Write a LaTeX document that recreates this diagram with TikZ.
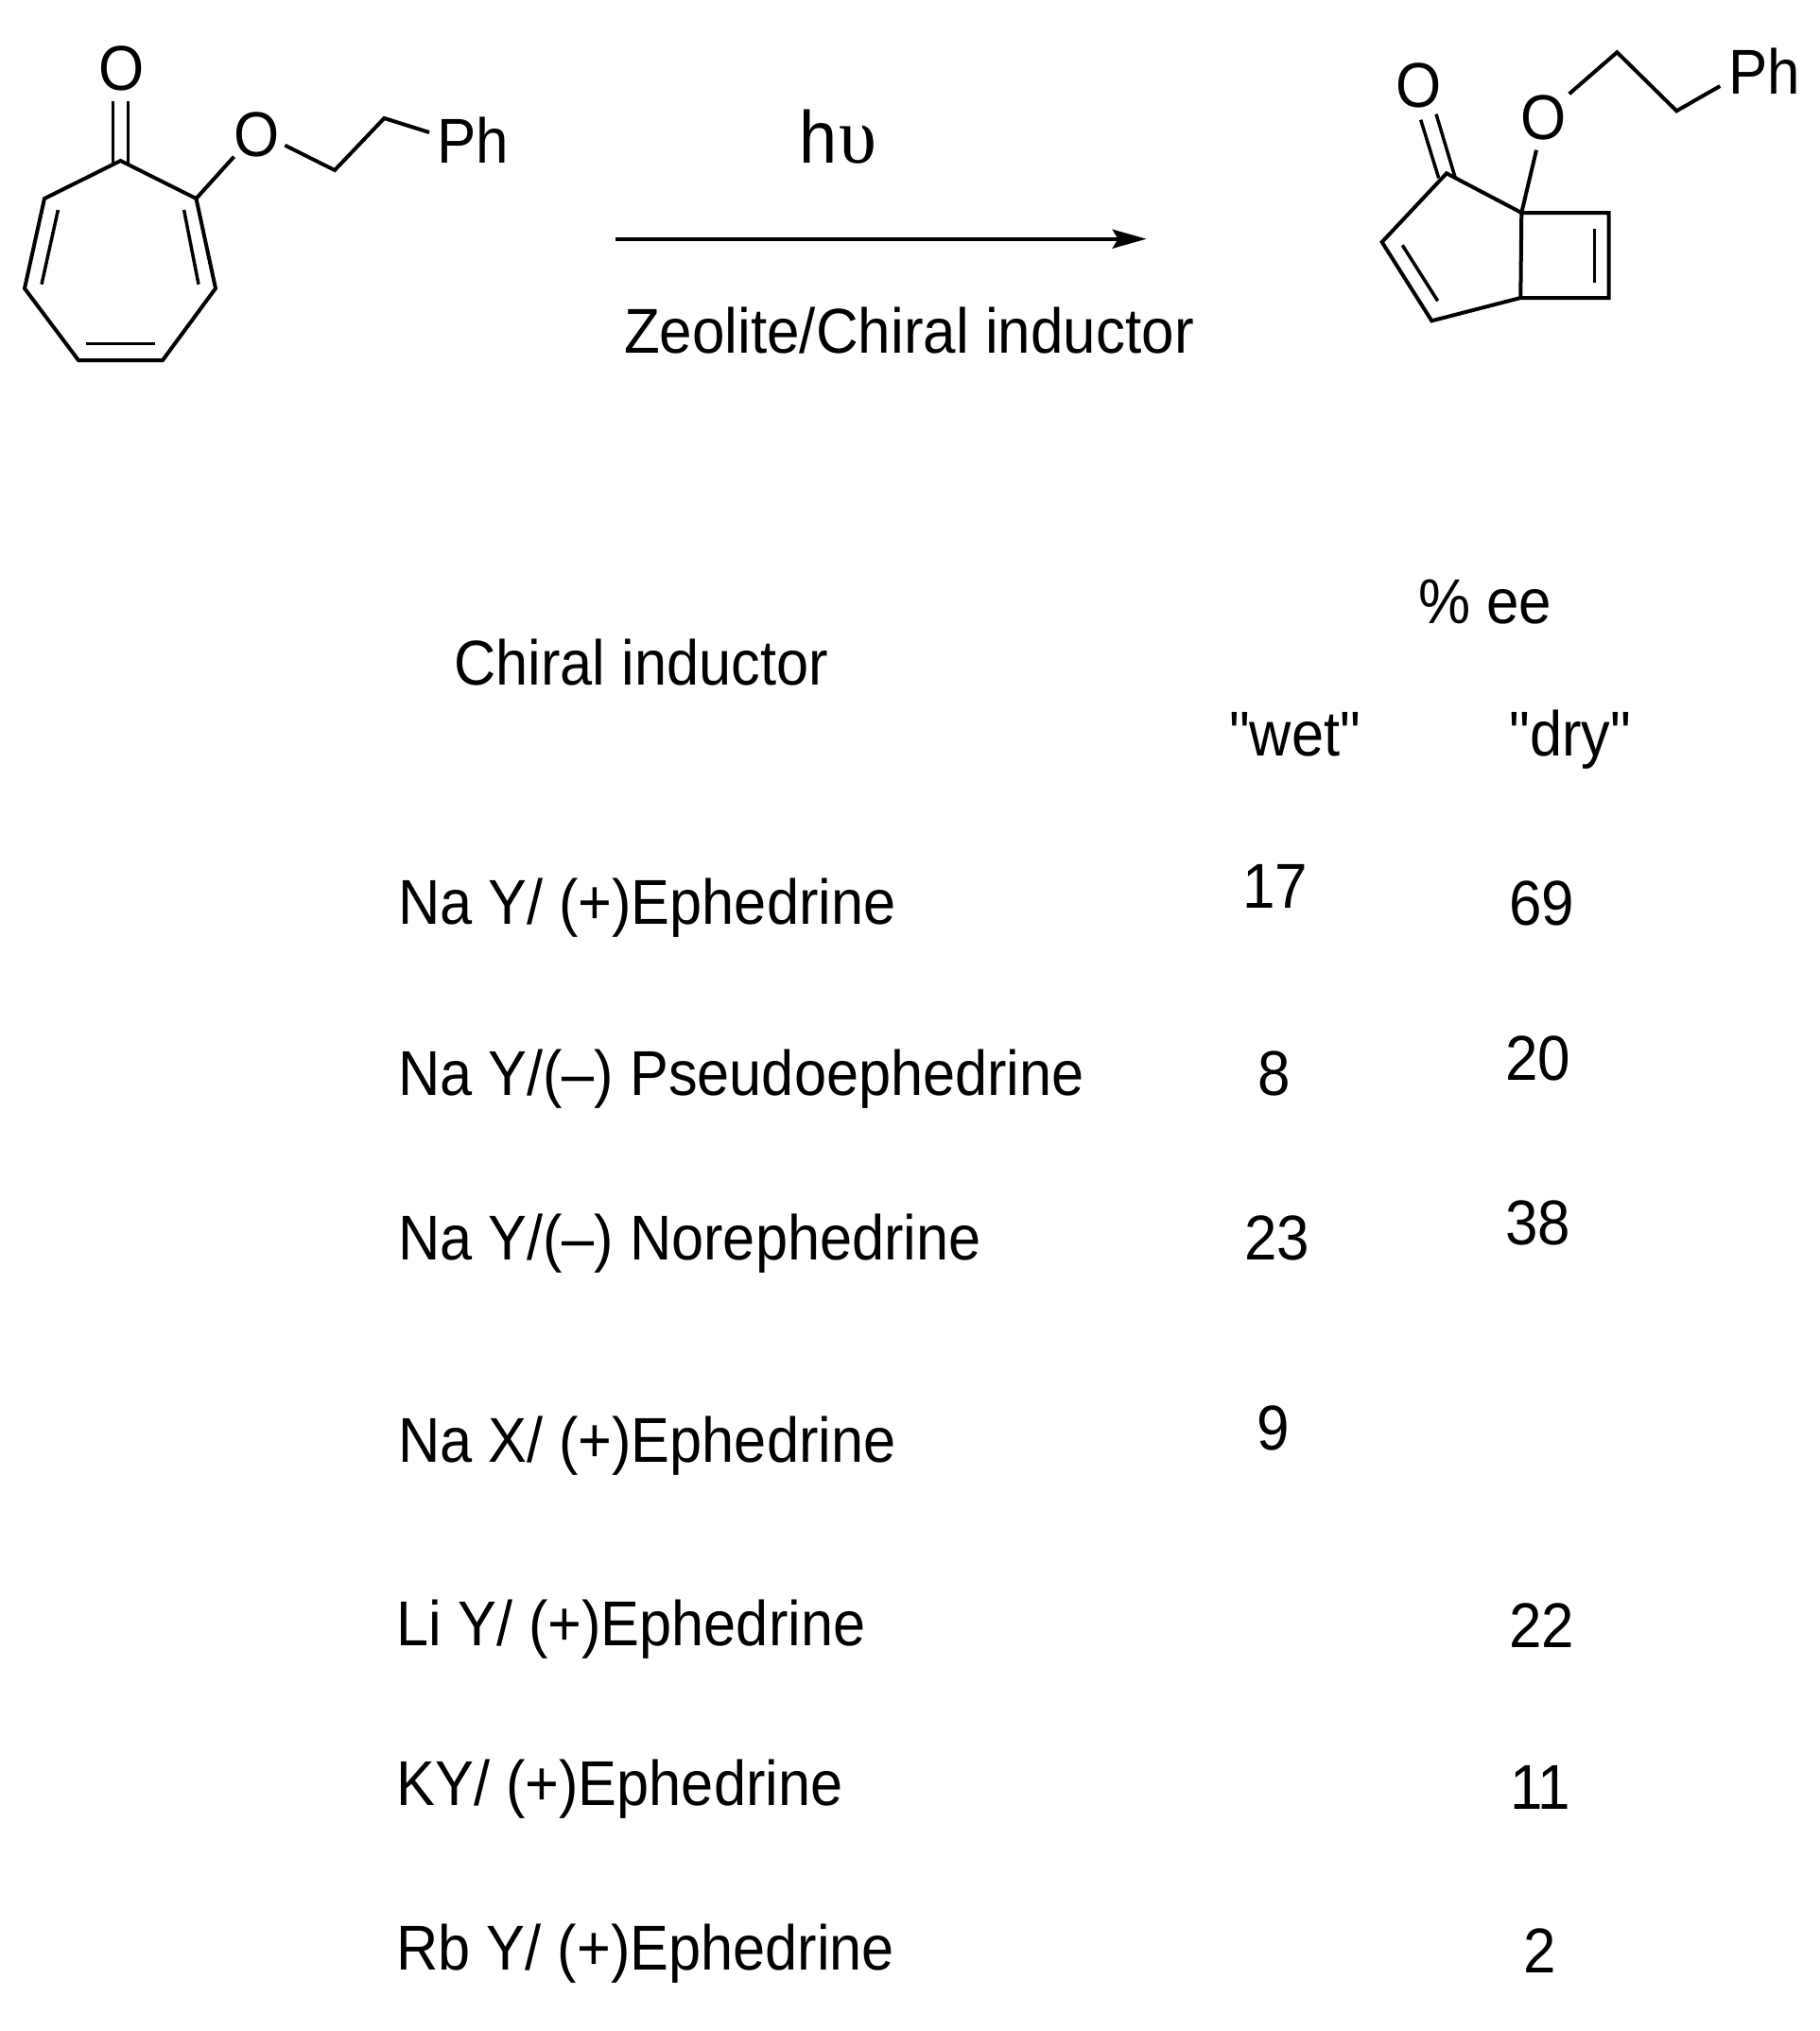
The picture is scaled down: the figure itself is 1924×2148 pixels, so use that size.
\documentclass[tikz,border=0pt]{standalone}
\usepackage{fontspec}
\setmainfont{Liberation Sans}
\newfontfamily\nf[FakeStretch=0.925]{Liberation Sans}
\newfontfamily\nfr[FakeStretch=0.915]{Liberation Sans}
\newfontfamily\sym[FakeStretch=0.96]{Liberation Serif}
\usetikzlibrary{arrows.meta}
\tikzset{
 x=0.5pt,y=-0.5pt,
 bond/.style={line width=2pt,line join=miter,line cap=butt},
 dbl/.style={line width=1.75pt,line cap=butt},
 txt/.style={inner sep=0pt,outer sep=0pt,anchor=base west,font=\nf\fontsize{33.5}{33.5}\selectfont},
 rowtxt/.style={inner sep=0pt,outer sep=0pt,anchor=base west,font=\nfr\fontsize{33.5}{33.5}\selectfont},
}
\begin{document}
\begin{tikzpicture}
\useasboundingbox[fill=white] (0,0) rectangle (1924,2148);
% left molecule
\coordinate (a1) at (127.5,170);\coordinate (a2) at (207.5,210);\coordinate (a3) at (228,305);
\coordinate (a4) at (172,381);\coordinate (a5) at (83,381);\coordinate (a6) at (26,305);\coordinate (a7) at (47,210);
\draw[bond] (a1)--(a2)--(a3)--(a4)--(a5)--(a6)--(a7)--cycle;
\coordinate (b1) at (119.6,107);\coordinate (b2) at (119.6,174);
\coordinate (b3) at (135.7,107);\coordinate (b4) at (135.7,174);
\draw[dbl] (b1)--(b2) (b3)--(b4);
\coordinate (c1) at (194.6,222);\coordinate (c2) at (210,300.7);\draw[dbl] (c1)--(c2);
\coordinate (c3) at (61.4,222);\coordinate (c4) at (44,300.7);\draw[dbl] (c3)--(c4);
\coordinate (c5) at (90.7,363.3);\coordinate (c6) at (164,363.3);\draw[dbl] (c5)--(c6);
\coordinate (d1) at (247.5,165.7);\draw[bond] (a2)--(d1);
\coordinate (e1) at (301.4,153.7);\coordinate (e2) at (354,180);\coordinate (e3) at (406.4,125);\coordinate (e4) at (454,140);
\draw[bond] (e1)--(e2)--(e3)--(e4);
\node[txt] (o1) at (104,95) {O};
\node[txt] (o2) at (247.5,165) {O};
\node[txt] (ph1) at (462,172.7) {Ph};
% right molecule
\coordinate (f1) at (1530,183.3);\coordinate (f2) at (1609.3,225);\coordinate (f3) at (1701.7,225);\coordinate (f4) at (1701.7,315);
\coordinate (f5) at (1608.3,315);\coordinate (f6) at (1514.3,339.3);\coordinate (f7) at (1461.7,256);
\draw[bond] (f1)--(f2)--(f3)--(f4)--(f5)--(f6)--(f7)--cycle (f2)--(f5);
\coordinate (g1) at (1521.7,188.3);\coordinate (g2) at (1502.7,126.7);\draw[dbl] (g1)--(g2);
\coordinate (g3) at (1539.3,188.3);\coordinate (g4) at (1519,120.7);\draw[dbl] (g3)--(g4);
\coordinate (g5) at (1483.3,259.3);\coordinate (g6) at (1520.7,318.3);\draw[dbl] (g5)--(g6);
\coordinate (g7) at (1686.3,242.3);\coordinate (g8) at (1686.3,298.7);\draw[dbl] (g7)--(g8);
\coordinate (h1) at (1625,158.7);\draw[bond] (f2)--(h1);
\coordinate (i1) at (1659.7,99.3);\coordinate (i2) at (1710.3,55.3);\coordinate (i3) at (1773.3,117.3);\coordinate (i4) at (1819.3,91);
\draw[bond] (i1)--(i2)--(i3)--(i4);
\node[txt] (o3) at (1476,113) {O};
\node[txt] (o4) at (1608.5,147) {O};
\node[txt] (ph2) at (1828.5,99) {Ph};
% arrow
\coordinate (s) at (651,252.7);\coordinate (t) at (1212.6,252.7);
\draw[line width=1.8pt,-{Stealth[length=18pt,width=10pt,inset=3pt]}] (s)--(t);
\node[inner sep=0pt,outer sep=0pt,anchor=base west,font=\nf\fontsize{39}{39}\selectfont] (hv) at (845.5,172.7) {h\hspace{1pt}{\sym\fontsize{42}{42}\selectfont υ}};
\node[txt] (z) at (660,373.3) {Zeolite/Chiral inductor};
% table
\node[txt] (pct) at (1500,659) {\% ee};
\node[rowtxt] (ci) at (480.5,724) {Chiral inductor};
\node[rowtxt] (wet) at (1300,799.3) {"wet"};
\node[rowtxt] (dry) at (1596.5,799.3) {"dry"};
\node[rowtxt] (r1) at (421,977.7) {Na Y/ (+)Ephedrine};
\node[rowtxt] (r2) at (421,1158.7) {Na Y/(–) Pseudoephedrine};
\node[rowtxt] (r3) at (421,1332.7) {Na Y/(–) Norephedrine};
\node[rowtxt] (r4) at (421,1546) {Na X/ (+)Ephedrine};
\node[rowtxt] (r5) at (419.5,1740.3) {Li Y/ (+)Ephedrine};
\node[rowtxt] (r6) at (419.5,1909.3) {KY/ (+)Ephedrine};
\node[rowtxt] (r7) at (419.5,2083.7) {Rb Y/ (+)Ephedrine};
\node[txt] (w1) at (1314,960) {17};
\node[txt] (w2) at (1330,1158) {8};
\node[txt] (w3) at (1316,1332) {23};
\node[txt] (w4) at (1329.5,1533) {9};
\node[txt] (d1n) at (1596,978) {69};
\node[txt] (d2n) at (1592,1142.7) {20};
\node[txt] (d3n) at (1592,1316.7) {38};
\node[txt] (d5n) at (1596,1742.7) {22};
\node[txt] (d6n) at (1597,1913.3) {11};
\node[txt] (d7n) at (1611,2086.7) {2};
\end{tikzpicture}
\end{document}
